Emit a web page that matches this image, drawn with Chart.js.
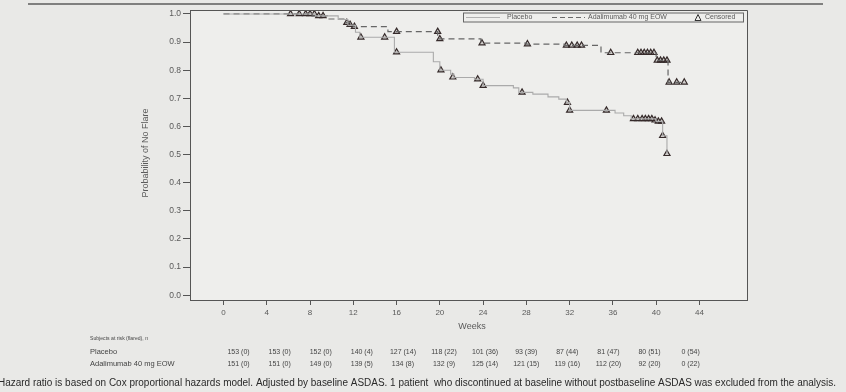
<!DOCTYPE html>
<html>
<head>
<meta charset="utf-8">
<script src="https://cdn.jsdelivr.net/npm/chart.js@4.4.0/dist/chart.umd.min.js"></script>
<style>
  html, body { margin: 0; padding: 0; background: #e9e9e7; }
  #wrap { width: 846px; height: 392px; position: relative; }
</style>
</head>
<body>
<div id="wrap"><canvas id="km" width="846" height="392"></canvas></div>
<script>
// tempos em semanas e probabilidade de não ter flare (curvas em degrau)
var placeboWeeks = [0, 8.5, 10.6, 11.5, 12.2, 12.6, 15.8, 19.4, 20.0, 21.0, 21.3, 23.2, 24.0, 26.8, 27.3, 28.6, 30.0, 31.0, 31.7, 32.0, 36.2, 37.0, 37.7, 40.0, 40.6, 41.0];
var placeboProb  = [1.0, 0.993, 0.98, 0.96, 0.935, 0.917, 0.864, 0.83, 0.80, 0.786, 0.774, 0.768, 0.745, 0.737, 0.721, 0.715, 0.705, 0.697, 0.685, 0.657, 0.648, 0.638, 0.627, 0.618, 0.567, 0.503];

var adaWeeks = [0, 8.0, 9.6, 11.3, 12.0, 15.2, 19.8, 23.8, 28.0, 31.5, 34.9, 40.0, 41.1, 42.6];
var adaProb  = [1.0, 0.993, 0.982, 0.969, 0.955, 0.937, 0.911, 0.896, 0.893, 0.888, 0.862, 0.835, 0.757, 0.757];

// censurados (triângulos)
var placeboCensWeeks = [6.2, 7.0, 8.4, 12.7, 14.9, 16.0, 20.1, 21.2, 23.5, 24.0, 27.6, 31.8, 32.0, 35.4, 37.9, 38.3, 38.7, 39.0, 39.3, 39.6, 39.9, 40.2, 40.5, 40.6, 41.0];
var placeboCensProb  = [1.0, 1.0, 1.0, 0.917, 0.917, 0.864, 0.80, 0.775, 0.768, 0.745, 0.721, 0.685, 0.657, 0.657, 0.627, 0.627, 0.627, 0.627, 0.627, 0.627, 0.622, 0.618, 0.618, 0.567, 0.503];
var adaCensWeeks = [7.6, 8.0, 8.8, 9.2, 11.4, 11.7, 12.1, 16.0, 19.8, 20.0, 23.9, 28.1, 31.7, 32.2, 32.7, 33.1, 35.8, 38.3, 38.6, 38.9, 39.2, 39.5, 39.8, 40.1, 40.4, 40.7, 41.0, 41.2, 41.9, 42.6];
var adaCensProb  = [1.0, 1.0, 0.993, 0.993, 0.969, 0.962, 0.955, 0.937, 0.937, 0.911, 0.896, 0.893, 0.888, 0.888, 0.888, 0.888, 0.862, 0.862, 0.862, 0.862, 0.862, 0.862, 0.862, 0.835, 0.835, 0.835, 0.835, 0.757, 0.757, 0.757];

// tabela de pacientes em risco
var riskWeeks = [0, 4, 8, 12, 16, 20, 24, 28, 32, 36, 40, 44];
var placeboAtRisk = [153, 153, 152, 140, 127, 118, 101, 93, 87, 81, 80, 0];
var placeboFlared = [0, 0, 0, 4, 14, 22, 36, 39, 44, 47, 51, 54];
var adaAtRisk = [151, 151, 149, 139, 134, 132, 125, 121, 119, 112, 92, 0];
var adaFlared = [0, 0, 0, 5, 8, 9, 14, 15, 16, 20, 20, 22];

var xTicks = [0, 4, 8, 12, 16, 20, 24, 28, 32, 36, 40, 44];
var yTicks = [0, 0.1, 0.2, 0.3, 0.4, 0.5, 0.6, 0.7, 0.8, 0.9, 1.0];

var footnote = 'Hazard ratio is based on Cox proportional hazards model. Adjusted by baseline ASDAS. 1 patient  who discontinued at baseline without postbaseline ASDAS was excluded from the analysis.';

function pts(xs, ys){
  return xs.map(function(x, i){ return {x: x, y: ys[i]}; });
}

var axisColor = '#555';
var textColor = '#5a5a5a';
var fontName = '"Liberation Sans", Arial, sans-serif';

// desenha moldura, legenda, títulos, tabela de risco e nota de rodapé
var extras = {
  id: 'extras',
  beforeDraw: function(chart){
    var ctx = chart.ctx;
    ctx.save();
    ctx.fillStyle = '#e9e9e7';
    ctx.fillRect(0, 0, chart.width, chart.height);
    var a = chart.chartArea;
    ctx.fillStyle = '#eeeeec';
    ctx.fillRect(a.left, a.top, a.right - a.left, a.bottom - a.top);
    ctx.restore();
  },
  afterDraw: function(chart){
    var ctx = chart.ctx;
    var a = chart.chartArea;
    var xs = chart.scales.x;
    ctx.save();

    // linha do slide no topo
    ctx.strokeStyle = '#5c5c5c';
    ctx.lineWidth = 1.5;
    ctx.beginPath(); ctx.moveTo(28, 4); ctx.lineTo(823, 4); ctx.stroke();

    // moldura superior e direita
    ctx.strokeStyle = axisColor;
    ctx.lineWidth = 1;
    ctx.beginPath();
    ctx.moveTo(a.left, a.top + 0.5); ctx.lineTo(a.right + 0.5, a.top + 0.5); ctx.lineTo(a.right + 0.5, a.bottom);
    ctx.stroke();

    // legenda
    var lx = 463, ly = 12.5, lw = 280, lh = 9;
    ctx.strokeStyle = '#666';
    ctx.strokeRect(lx + 0.5, ly + 0.5, lw, lh);
    var cy = ly + lh / 2 + 0.5;
    ctx.strokeStyle = '#b0b0b0';
    ctx.beginPath(); ctx.moveTo(466, cy); ctx.lineTo(500, cy); ctx.stroke();
    ctx.strokeStyle = '#6a6a6a';
    ctx.setLineDash([5, 3]);
    ctx.beginPath(); ctx.moveTo(552, cy); ctx.lineTo(585, cy); ctx.stroke();
    ctx.setLineDash([]);
    ctx.strokeStyle = '#333';
    ctx.beginPath(); ctx.moveTo(695, cy + 3); ctx.lineTo(698, cy - 3); ctx.lineTo(701, cy + 3); ctx.closePath(); ctx.stroke();
    ctx.fillStyle = textColor;
    ctx.font = '7px ' + fontName;
    ctx.textBaseline = 'middle';
    ctx.textAlign = 'left';
    ctx.fillText('Placebo', 507, cy);
    ctx.fillText('Adalimumab 40 mg EOW', 588, cy, 85);
    ctx.fillText('Censored', 705, cy, 36);

    // título do eixo y
    ctx.save();
    ctx.translate(146, 153);
    ctx.rotate(-Math.PI / 2);
    ctx.textAlign = 'center';
    ctx.font = '9px ' + fontName;
    ctx.fillText('Probability of No Flare', 0, 0);
    ctx.restore();

    // título do eixo x
    ctx.textAlign = 'center';
    ctx.font = '9px ' + fontName;
    ctx.fillText('Weeks', 472, 327);

    // tabela de risco
    ctx.textAlign = 'left';
    ctx.fillStyle = '#444';
    ctx.font = '5.5px ' + fontName;
    ctx.fillText('Subjects at risk (flared), n', 90, 338, 58);
    ctx.font = '7.5px ' + fontName;
    ctx.fillText('Placebo', 90, 352);
    ctx.fillText('Adalimumab 40 mg EOW', 90, 364, 90);
    ctx.textAlign = 'center';
    ctx.font = '7px ' + fontName;
    var p0 = xs.getPixelForValue(0);
    riskWeeks.forEach(function(w, i){
      var cx = p0 + 15 + (xs.getPixelForValue(w) - p0) * 0.95;
      ctx.fillText(placeboAtRisk[i] + ' (' + placeboFlared[i] + ')', cx, 352);
      ctx.fillText(adaAtRisk[i] + ' (' + adaFlared[i] + ')', cx, 364);
    });

    // nota de rodapé
    ctx.textAlign = 'left';
    ctx.fillStyle = '#2a2a2a';
    ctx.font = '10px ' + fontName;
    ctx.fillText(footnote, -2, 383, 838);

    ctx.restore();
  }
};

var ctx = document.getElementById('km').getContext('2d');
var chart = new Chart(ctx, {
  type: 'line',
  data: {
    datasets: [
      {
        label: 'Placebo',
        data: pts(placeboWeeks, placeboProb),
        stepped: true,
        borderColor: '#aaaaaa',
        borderWidth: 1.1,
        pointRadius: 0,
        fill: false
      },
      {
        label: 'Adalimumab 40 mg EOW',
        data: pts(adaWeeks, adaProb),
        stepped: true,
        borderColor: '#666666',
        borderWidth: 1.2,
        borderDash: [6, 4],
        pointRadius: 0,
        fill: false
      },
      {
        label: 'Censored placebo',
        type: 'scatter',
        data: pts(placeboCensWeeks, placeboCensProb),
        showLine: false,
        pointStyle: 'triangle',
        pointRadius: 3.5,
        borderColor: '#352a2a',
        backgroundColor: 'rgba(60,40,40,0.15)',
        borderWidth: 1.2
      },
      {
        label: 'Censored ada',
        type: 'scatter',
        data: pts(adaCensWeeks, adaCensProb),
        showLine: false,
        pointStyle: 'triangle',
        pointRadius: 3.5,
        borderColor: '#352a2a',
        backgroundColor: 'rgba(60,40,40,0.15)',
        borderWidth: 1.2
      }
    ]
  },
  options: {
    responsive: false,
    animation: false,
    layout: { padding: { left: 0, right: 99, top: 10, bottom: 0 } },
    plugins: {
      legend: { display: false },
      tooltip: { enabled: false }
    },
    scales: {
      x: {
        type: 'linear',
        min: -3.1,
        max: 48.4,
        afterBuildTicks: function(scale){ scale.ticks = xTicks.map(function(v){ return {value: v}; }); },
        afterFit: function(scale){ scale.height = 92; },
        ticks: { color: textColor, font: { size: 8, family: fontName }, padding: 3, maxRotation: 0, autoSkip: false },
        grid: { drawOnChartArea: false, drawTicks: true, tickLength: 5, color: axisColor },
        border: { display: true, color: axisColor, width: 1 }
      },
      y: {
        min: -0.017,
        max: 1.014,
        afterBuildTicks: function(scale){ scale.ticks = yTicks.map(function(v){ return {value: v}; }); },
        afterFit: function(scale){ scale.width = 190; },
        ticks: {
          color: textColor, font: { size: 8.5, family: fontName }, padding: 2, autoSkip: false,
          callback: function(v){ return Number(v).toFixed(1); }
        },
        grid: { drawOnChartArea: false, drawTicks: true, tickLength: 7, color: axisColor },
        border: { display: true, color: axisColor, width: 1 }
      }
    }
  },
  plugins: [extras]
});
</script>
</body>
</html>
